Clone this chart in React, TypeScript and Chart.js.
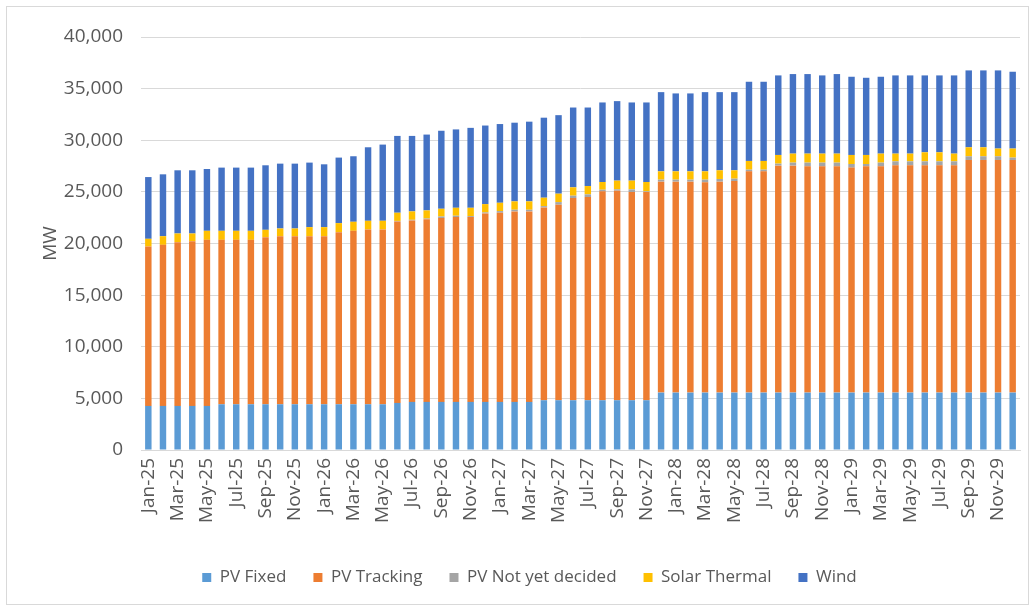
import React, { useEffect, useRef } from 'react';
import { Chart, registerables } from 'chart.js';

Chart.register(...registerables);

const months: string[] = [
  'Jan-25','Feb-25','Mar-25','Apr-25','May-25','Jun-25','Jul-25','Aug-25','Sep-25','Oct-25','Nov-25','Dec-25',
  'Jan-26','Feb-26','Mar-26','Apr-26','May-26','Jun-26','Jul-26','Aug-26','Sep-26','Oct-26','Nov-26','Dec-26',
  'Jan-27','Feb-27','Mar-27','Apr-27','May-27','Jun-27','Jul-27','Aug-27','Sep-27','Oct-27','Nov-27','Dec-27',
  'Jan-28','Feb-28','Mar-28','Apr-28','May-28','Jun-28','Jul-28','Aug-28','Sep-28','Oct-28','Nov-28','Dec-28',
  'Jan-29','Feb-29','Mar-29','Apr-29','May-29','Jun-29','Jul-29','Aug-29','Sep-29','Oct-29','Nov-29','Dec-29',
];

const pvFixed: number[] = [
  4270, 4270, 4270, 4270, 4270, 4430, 4430, 4430, 4430, 4430, 4430, 4430,
  4430, 4430, 4430, 4430, 4430, 4560, 4660, 4660, 4660, 4660, 4660, 4660,
  4660, 4660, 4660, 4820, 4820, 4820, 4820, 4820, 4820, 4820, 4820, 5560,
  5560, 5560, 5560, 5560, 5560, 5560, 5560, 5560, 5560, 5560, 5560, 5560,
  5560, 5560, 5560, 5560, 5560, 5560, 5560, 5560, 5560, 5560, 5560, 5560,
];

const pvTracking: number[] = [
  15440, 15600, 15860, 15955, 16085, 15925, 15925, 15925, 16185, 16280, 16280, 16280,
  16280, 16670, 16800, 16930, 16930, 17575, 17575, 17700, 17800, 17895, 17895, 18255,
  18320, 18450, 18450, 18675, 18935, 19580, 19680, 20230, 20295, 20165, 20165, 20430,
  20430, 20430, 20365, 20430, 20490, 21430, 21430, 21980, 21980, 21915, 21915, 21915,
  21790, 21915, 21915, 22015, 22015, 22015, 22015, 22015, 22530, 22530, 22530, 22530,
];

const pvNotDecided: number[] = [
  0, 0, 0, 0, 0, 0, 0, 0, 0, 0, 0, 0,
  0, 0, 0, 0, 0, 50, 60, 60, 160, 135, 100, 95,
  160, 160, 160, 125, 255, 230, 260, 160, 130, 260, 65, 195,
  195, 195, 260, 260, 230, 165, 165, 195, 295, 360, 360, 360,
  350, 225, 360, 385, 385, 385, 385, 385, 360, 360, 360, 230,
];

const solarThermal: number[] = [
  745, 840, 840, 745, 875, 875, 875, 875, 710, 745, 745, 875,
  875, 875, 875, 840, 840, 795, 815, 785, 745, 770, 805, 805,
  805, 810, 810, 815, 815, 810, 805, 745, 845, 845, 905, 805,
  805, 805, 805, 840, 810, 840, 840, 840, 870, 870, 870, 870,
  875, 875, 870, 745, 745, 875, 875, 745, 870, 870, 745, 875,
];

const wind: number[] = [
  5980, 5990, 6120, 6120, 5985, 6120, 6120, 6120, 6250, 6280, 6280, 6250,
  6085, 6345, 6345, 7120, 7380, 7440, 7310, 7345, 7555, 7590, 7740, 7610,
  7625, 7620, 7720, 7750, 7605, 7730, 7605, 7705, 7700, 7570, 7705, 7670,
  7545, 7545, 7670, 7570, 7570, 7670, 7670, 7705, 7705, 7705, 7575, 7705,
  7575, 7475, 7445, 7575, 7575, 7445, 7445, 7575, 7445, 7445, 7570, 7440,
];

const seriesNames: string[] = ['PV Fixed', 'PV Tracking', 'PV Not yet decided', 'Solar Thermal', 'Wind'];
const seriesColors: string[] = ['#5B9BD5', '#ED7D31', '#A5A5A5', '#FFC000', '#4472C4'];

const yMax = 40000;
const yStep = 5000;

export default function App() {
  const ref = useRef<HTMLCanvasElement>(null);

  useEffect(() => {
    if (!ref.current) return;
    const values = [pvFixed, pvTracking, pvNotDecided, solarThermal, wind];
    const textColor = '#595959';
    const family = "'Open Sans', 'Noto Sans', sans-serif";
    const chart = new Chart(ref.current, {
      type: 'bar',
      data: {
        labels: months,
        datasets: values.map((v, i) => ({
          label: seriesNames[i],
          data: v,
          backgroundColor: seriesColors[i],
          borderWidth: 0,
          categoryPercentage: 1,
          barPercentage: 0.44,
        })),
      },
      options: {
        responsive: false,
        animation: false,
        layout: { padding: { left: 32, right: 8, top: 30, bottom: 8 } },
        plugins: {
          tooltip: { enabled: false },
          legend: {
            position: 'bottom',
            labels: {
              boxWidth: 9,
              boxHeight: 9,
              padding: 27,
              color: textColor,
              font: { family, size: 17 },
            },
          },
        },
        scales: {
          x: {
            stacked: true,
            grid: { display: false, drawTicks: false },
            border: { display: true, color: '#D9D9D9', width: 1 },
            ticks: {
              autoSkip: false,
              maxRotation: 90,
              minRotation: 90,
              padding: 8,
              color: textColor,
              font: { family, size: 19 },
              callback: (_v: any, idx: number) => (idx % 2 === 0 ? months[idx] : ''),
            },
            afterFit: (scale: any) => {
              scale.height = 92;
              scale.paddingLeft = 0;
              scale.paddingRight = 0;
            },
          },
          y: {
            stacked: true,
            min: 0,
            max: yMax,
            grid: { color: '#D9D9D9', lineWidth: 1, drawTicks: false },
            border: { display: false },
            ticks: {
              stepSize: yStep,
              padding: 18,
              color: textColor,
              font: { family, size: 19 },
              callback: (v: any) => Number(v).toLocaleString('en-US'),
            },
            title: {
              display: true,
              text: 'MW',
              color: textColor,
              font: { family, size: 19 },
              padding: { top: 0, bottom: 0 },
            },
            afterFit: (scale: any) => {
              scale.width = 102;
              scale.paddingTop = 0;
              scale.paddingBottom = 0;
            },
          },
        },
      },
    });
    return () => chart.destroy();
  }, []);

  return (
    <div
      style={{
        position: 'absolute',
        left: 6,
        top: 6,
        width: 1023,
        height: 599,
        border: '1px solid #D9D9D9',
        boxSizing: 'border-box',
        background: '#ffffff',
      }}
    >
      <canvas ref={ref} width={1021} height={597} style={{ display: 'block', width: 1021, height: 597 }} />
    </div>
  );
}
